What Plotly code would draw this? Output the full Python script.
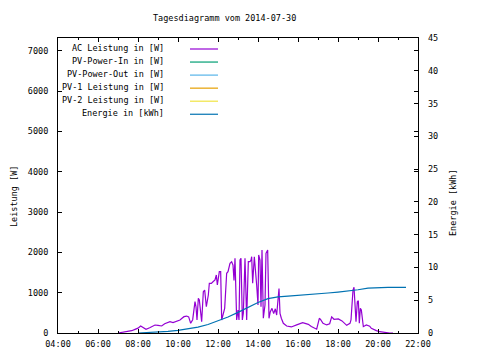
import plotly.graph_objects as go

DAY = "2014-07-30"

# AC Leistung [W]
ac_times = ["07:00","07:20","07:41","07:51","08:00","08:08","08:15","08:24","08:35","08:45","08:51","09:00","09:11",
            "09:20","09:36","09:45","10:00","10:06","10:12","10:18","10:26","10:32","10:38","10:44","10:51","10:54",
            "10:57","11:01","11:04","11:07","11:11","11:16","11:20","11:25","11:31","11:34","11:40","11:45","11:51",
            "11:55","11:58","12:04","12:08","12:11","12:17","12:20","12:26","12:30","12:36","12:41","12:45","12:48",
            "12:51","12:56","13:00","13:03","13:06","13:09","13:13","13:16","13:21","13:26","13:31","13:36","13:39",
            "13:41","13:44","13:49","13:56","14:00","14:02","14:06","14:09","14:12","14:16","14:21","14:24","14:26",
            "14:29","14:33","14:37","14:42","14:47","14:52","14:56","15:03","15:06","15:10","15:16","15:26","15:40",
            "15:56","16:14","16:31","16:40","16:56","17:04","17:08","17:15","17:26","17:35","17:41","17:48","18:01",
            "18:12","18:26","18:36","18:39","18:42","18:45","18:48","18:51","18:54","18:58","19:01","19:04","19:07",
            "19:10","19:13","19:16","19:25","19:35","19:40","19:45","19:55","20:05","20:20","20:35","20:45"]
ac_watts = [0, 20, 57, 91, 120, 174, 130, 91, 130, 174, 198, 190, 174,
            230, 280, 260, 305, 322, 365, 405, 420, 400, 240, 330, 777, 650,
            322, 860, 820, 500, 280, 1024, 1066, 652, 942, 1232, 1232, 1272, 1314,
            1438, 1190, 1520, 1520, 322, 528, 611, 1480, 1520, 1728, 1768, 1686, 1300,
            1852, 322, 570, 322, 1810, 1852, 322, 488, 1852, 322, 1768, 1768, 1810,
            1892, 1232, 1892, 1190, 694, 1934, 1810, 652, 2058, 365, 694, 1976, 2016,
            2058, 365, 528, 611, 480, 600, 446, 1100, 488, 365, 240, 174, 150,
            200, 255, 215, 160, 95, 365, 330, 240, 200, 230, 400, 340, 350,
            300, 190, 240, 322, 736, 1066, 1133, 652, 280, 777, 800, 240, 611,
            570, 240, 157, 198, 170, 116, 91, 60, 32, 10, 0, 0]

# Energie [kWh]
en_times = ["08:00","08:30","09:00","09:30","10:00","10:30","11:00","11:30","12:00","12:30","13:00","13:30",
            "14:00","14:30","15:00","15:30","16:00","16:30","17:00","17:30","18:00","18:30","19:00","19:30",
            "20:00","20:30","21:00","21:24"]
en_kwh = [0, 0.05, 0.15, 0.25, 0.4, 0.65, 0.9, 1.3, 1.85, 2.45, 3.15, 3.95,
          4.65, 5.25, 5.5, 5.62, 5.72, 5.85, 5.97, 6.1, 6.25, 6.4, 6.6, 6.85,
          6.95, 6.97, 6.97, 6.97]

legend_labels = ["AC Leistung in [W]", "PV-Power-In in [W]", "PV-Power-Out in [W]",
                 "PV-1 Leistung in [W]", "PV-2 Leistung in [W]", "Energie in [kWh]"]
legend_colors = ["#9400d3", "#009e73", "#56b4e9", "#e69f00", "#f0e442", "#0072b2"]

FONT = "DejaVu Sans Mono"
OFF = 8                      # page body margin
W, H = 480 - OFF, 360 - OFF
L, R, T, B = 58, 418, 38, 333  # plot area in page pixels

def px(x):
    return (x - L) / (R - L)

def py(y):
    return (B - y) / (B - T)

fig = go.Figure()
fig.add_trace(go.Scatter(x=[f"{DAY} {t}" for t in ac_times], y=ac_watts, mode="lines",
                         line=dict(color=legend_colors[0], width=1.2), showlegend=False))
fig.add_trace(go.Scatter(x=[f"{DAY} {t}" for t in en_times], y=en_kwh, mode="lines", yaxis="y2",
                         line=dict(color=legend_colors[5], width=1.2), showlegend=False))

shapes = []
annotations = []
for i, (lab, col) in enumerate(zip(legend_labels, legend_colors)):
    yy = 49 + i * 13.05
    shapes.append(dict(type="line", xref="paper", yref="paper", x0=px(190), x1=px(218),
                       y0=py(yy), y1=py(yy), line=dict(color=col, width=1.2)))
    annotations.append(dict(text=lab, xref="paper", yref="paper", x=px(166), y=py(yy - 1.5),
                            xanchor="right", yanchor="middle", showarrow=False,
                            font=dict(family=FONT, size=8.5, color="black")))

annotations.append(dict(text="Tagesdiagramm vom 2014-07-30", xref="paper", yref="paper",
                        x=px(224), y=py(18), xanchor="center", yanchor="middle", showarrow=False,
                        font=dict(family=FONT, size=8.5, color="black")))
annotations.append(dict(text="Leistung [W]", xref="paper", yref="paper", x=px(14), y=py(197),
                        xanchor="center", yanchor="middle", textangle=-90, showarrow=False,
                        font=dict(family=FONT, size=8.5, color="black")))
annotations.append(dict(text="Energie [kWh]", xref="paper", yref="paper", x=px(453), y=py(203),
                        xanchor="center", yanchor="middle", textangle=-90, showarrow=False,
                        font=dict(family=FONT, size=8.5, color="black")))

fig.update_layout(
    width=W, height=H,
    margin=dict(l=L - OFF, r=W - (R - OFF), t=T - OFF, b=H - (B - OFF), pad=0),
    paper_bgcolor="white", plot_bgcolor="white",
    font=dict(family=FONT, size=8.5, color="black"),
    shapes=shapes, annotations=annotations,
    xaxis=dict(type="date", range=[f"{DAY} 04:00", f"{DAY} 22:00"], dtick=7200000,
               tick0=f"{DAY} 00:00", tickformat="%H:%M", ticks="inside", ticklen=4,
               tickcolor="black", showline=True, linecolor="black", linewidth=1, mirror="ticks",
               showgrid=False, zeroline=False, ticklabelstandoff=3,
               minor=dict(dtick=3600000, ticks="inside", ticklen=2, tickcolor="black", showgrid=False)),
    yaxis=dict(range=[0, 7315], dtick=1000, ticks="inside", ticklen=4, tickcolor="black",
               showline=True, linecolor="black", linewidth=1, mirror="ticks", showgrid=False,
               zeroline=False, ticklabelstandoff=7),
    yaxis2=dict(range=[0, 45], dtick=5, overlaying="y", side="right", ticks="inside", ticklen=4,
                tickcolor="black", showline=False, showgrid=False, zeroline=False,
                ticklabelstandoff=9),
)

fig.write_html("out.html")
